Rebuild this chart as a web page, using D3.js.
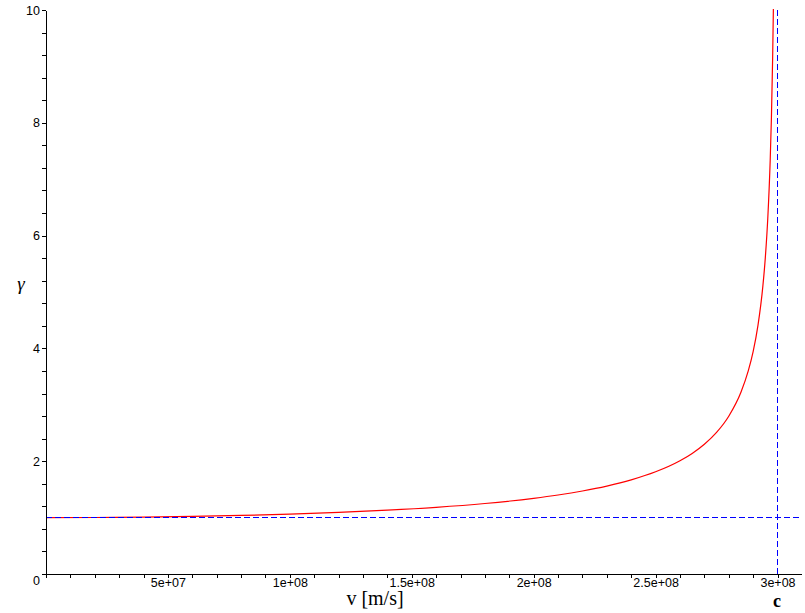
<!DOCTYPE html>
<html>
<head>
<meta charset="utf-8">
<script src="https://cdn.jsdelivr.net/npm/d3@7"></script>
<style>
  body { margin: 0; background: #fff; }
  svg { display: block; }
  .tick text { font-family: "Liberation Sans", Arial, sans-serif; font-size: 12.5px; fill: #000; }
</style>
</head>
<body>
<div id="chart"></div>
<script>
// speed v [m/s] and Lorentz factor gamma
const speeds = [0, 2e7, 4e7, 6e7, 8e7, 1e8, 1.2e8, 1.4e8, 1.6e8, 1.8e8, 2e8, 2.1e8, 2.2e8, 2.3e8,
  2.4e8, 2.5e8, 2.6e8, 2.65e8, 2.7e8, 2.75e8, 2.8e8, 2.85e8, 2.88e8, 2.9e8, 2.92e8, 2.94e8,
  2.95e8, 2.96e8, 2.97e8, 2.975e8, 2.98e8, 2.983e8, 2.986e8];
const gammas = [1.000, 1.002, 1.009, 1.021, 1.038, 1.061, 1.091, 1.131, 1.182, 1.250, 1.342, 1.401, 1.472, 1.559,
  1.669, 1.812, 2.008, 2.138, 2.301, 2.511, 2.798, 3.222, 3.600, 3.943, 4.413, 5.108,
  5.610, 6.299, 7.334, 8.090, 9.144, 10.015, 11.19];

const lightSpeed = 2.998e8;
const restGamma = 1;

const xMajorTicks = [5e7, 1e8, 1.5e8, 2e8, 2.5e8, 3e8];
const xTickLabels = ["5e+07", "1e+08", "1.5e+08", "2e+08", "2.5e+08", "3e+08"];
const xMinorTicks = d3.range(0, 31).map(i => i * 1e7);
const yMajorTicks = [0, 2, 4, 6, 8, 10];
const yTickLabels = ["0", "2", "4", "6", "8", "10"];
const yMinorTicks = d3.range(0, 26).map(i => i * 0.4);

const width = 805, height = 613;
const svg = d3.select("#chart").append("svg")
  .attr("width", width)
  .attr("height", height);

const x = d3.scaleLinear().domain([0, 3.1e8]).range([46, 801.9]);
const y = d3.scaleLinear().domain([0, 10]).range([574, 10]);

// clip the curve at the top of the plot
svg.append("clipPath").attr("id", "plotClip")
  .append("rect")
  .attr("x", 46).attr("y", 9)
  .attr("width", 760).attr("height", 566);

const pts = speeds.map((v, i) => ({ v: v, g: gammas[i] }));

const line = d3.line()
  .x(d => x(d.v))
  .y(d => y(d.g))
  .curve(d3.curveMonotoneX);

svg.append("path")
  .datum(pts)
  .attr("clip-path", "url(#plotClip)")
  .attr("fill", "none")
  .attr("stroke", "#ff0000")
  .attr("stroke-width", 1.2)
  .attr("d", line);

// dashed guide lines: gamma = 1 and v = c
svg.append("line")
  .attr("x1", x(0)).attr("x2", x(3.1e8))
  .attr("y1", y(restGamma)).attr("y2", y(restGamma))
  .attr("stroke", "#0000ff")
  .attr("stroke-dasharray", "6,3")
  .attr("shape-rendering", "crispEdges");

svg.append("line")
  .attr("x1", x(lightSpeed)).attr("x2", x(lightSpeed))
  .attr("y1", y(10)).attr("y2", y(0))
  .attr("stroke", "#0000ff")
  .attr("stroke-dasharray", "6,3")
  .attr("shape-rendering", "crispEdges");

// x axis: minor ticks, then labelled ticks
svg.append("g")
  .attr("transform", "translate(0," + y(0) + ")")
  .attr("shape-rendering", "crispEdges")
  .call(d3.axisBottom(x).tickValues(xMinorTicks).tickSize(4).tickSizeOuter(0).tickFormat(""));

const xAxis = svg.append("g")
  .attr("transform", "translate(0," + y(0) + ")")
  .attr("shape-rendering", "crispEdges")
  .call(d3.axisBottom(x).tickValues(xMajorTicks).tickSize(4).tickSizeOuter(0)
    .tickPadding(0)
    .tickFormat((d, i) => xTickLabels[i]));
xAxis.select(".domain").remove();

// y axis
svg.append("g")
  .attr("transform", "translate(" + x(0) + ",0)")
  .attr("shape-rendering", "crispEdges")
  .call(d3.axisLeft(y).tickValues(yMinorTicks).tickSize(4).tickSizeOuter(0).tickFormat(""));

const yAxis = svg.append("g")
  .attr("transform", "translate(" + x(0) + ",0)")
  .attr("shape-rendering", "crispEdges")
  .call(d3.axisLeft(y).tickValues(yMajorTicks).tickSize(4).tickSizeOuter(0)
    .tickPadding(2)
    .tickFormat((d, i) => yTickLabels[i]));
yAxis.select(".domain").remove();
// the zero label sits a little below the corner
yAxis.selectAll(".tick text").filter(d => d === 0).attr("dy", "0.85em");

svg.selectAll(".tick line").attr("stroke", "#000");
svg.selectAll(".domain").attr("stroke", "#000");

// axis titles
svg.append("text")
  .attr("x", 375).attr("y", 605)
  .attr("text-anchor", "middle")
  .style("font-family", "'Liberation Serif', 'Times New Roman', serif")
  .style("font-size", "20px")
  .text("v [m/s]");

svg.append("text")
  .attr("x", 21).attr("y", 290)
  .attr("text-anchor", "middle")
  .style("font-family", "'Liberation Serif', 'Times New Roman', serif")
  .style("font-size", "19px")
  .style("font-style", "italic")
  .text("γ");

svg.append("text")
  .attr("x", x(lightSpeed)).attr("y", 607)
  .attr("text-anchor", "middle")
  .style("font-family", "'Liberation Serif', 'Times New Roman', serif")
  .style("font-size", "18px")
  .style("font-weight", "bold")
  .text("c");
</script>
</body>
</html>
